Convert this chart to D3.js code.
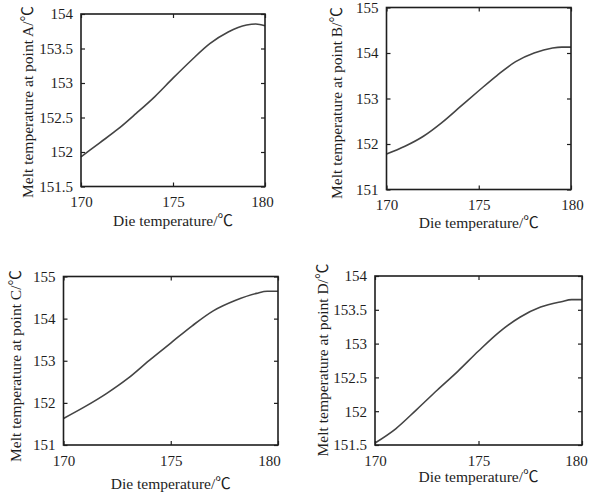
<!DOCTYPE html>
<html>
<head>
<meta charset="utf-8">
<script src="https://cdn.jsdelivr.net/npm/d3@7"></script>
<style>
  html, body { margin: 0; padding: 0; background: #fff; }
  svg { display: block; }
</style>
</head>
<body>
<svg id="chart" width="592" height="495"></svg>
<script>
// Die temperature (°C) sampled along each curve
const dieTemp = [170, 171, 172, 173, 174, 175, 176, 177, 178, 179, 179.5, 180];

// Melt temperature (°C) at the four monitoring points
const meltA = [151.93, 152.13, 152.33, 152.56, 152.80, 153.07, 153.33, 153.57, 153.74, 153.84, 153.855, 153.83];
const meltB = [151.78, 151.95, 152.17, 152.47, 152.82, 153.17, 153.51, 153.81, 154.00, 154.11, 154.13, 154.13];
const meltC = [151.63, 151.91, 152.22, 152.58, 153.01, 153.42, 153.83, 154.19, 154.43, 154.60, 154.65, 154.65];
const meltD = [151.53, 151.74, 152.02, 152.31, 152.59, 152.89, 153.17, 153.39, 153.54, 153.62, 153.65, 153.65];

// Axis ticks
const xTicks = [170, 175, 180];
const yTicksAD = [151.5, 152, 152.5, 153, 153.5, 154];
const yTicksBC = [151, 152, 153, 154, 155];
const yTickLabelsAD = ["151.5", "152", "152.5", "153", "153.5", "154"];
const yTickLabelsBC = ["151", "152", "153", "154", "155"];

const pointNames = ["A", "B", "C", "D"];
const xTitle = "Die temperature/\u2103";

const FONT = "'Liberation Serif', 'Noto Sans CJK SC', 'Times New Roman', serif";
const ink = "#1e1e1e";
const tickLen = 4;

const svg = d3.select("#chart");

// Frame geometry and label placement for each of the four plots
const panels = [
  { series: meltA, ticks: yTicksAD, labels: yTickLabelsAD,
    left: 81, right: 265, top: 14, bottom: 186.5, lastDx: -3,
    xTitleY: 226, yTitleX: 33, yTitleY: 102 },
  { series: meltB, ticks: yTicksBC, labels: yTickLabelsBC,
    left: 386.5, right: 571, top: 7.5, bottom: 189.5, lastDx: 1,
    xTitleY: 228, yTitleX: 342, yTitleY: 103 },
  { series: meltC, ticks: yTicksBC, labels: yTickLabelsBC,
    left: 63.5, right: 278, top: 276.5, bottom: 445, lastDx: -9,
    xTitleY: 489, yTitleX: 21, yTitleY: 366 },
  { series: meltD, ticks: yTicksAD, labels: yTickLabelsAD,
    left: 375, right: 582, top: 276, bottom: 445, lastDx: -6,
    xTitleY: 482, yTitleX: 328, yTitleY: 360 }
];

panels.forEach((p, i) => {
  const x = d3.scaleLinear().domain([xTicks[0], xTicks[xTicks.length - 1]]).range([p.left, p.right]);
  const y = d3.scaleLinear().domain([p.ticks[0], p.ticks[p.ticks.length - 1]]).range([p.bottom, p.top]);
  const g = svg.append("g");

  // Bottom and left axes (inward ticks), with labels
  const xAxis = d3.axisBottom(x).tickValues(xTicks).tickSizeInner(-tickLen).tickSizeOuter(0)
    .tickPadding(10).tickFormat(d3.format("d"));
  const yAxis = d3.axisLeft(y).tickValues(p.ticks).tickSizeInner(-tickLen).tickSizeOuter(0)
    .tickPadding(8).tickFormat((d, k) => p.labels[k]);
  // Mirrored top and right ticks without labels
  const xTop = d3.axisTop(x).tickValues(xTicks).tickSizeInner(-tickLen).tickSizeOuter(0).tickFormat("");
  const yRight = d3.axisRight(y).tickValues(p.ticks).tickSizeInner(-tickLen).tickSizeOuter(0).tickFormat("");

  const gx = g.append("g").attr("transform", `translate(0,${p.bottom})`).call(xAxis);
  const gy = g.append("g").attr("transform", `translate(${p.left},0)`).call(yAxis);
  const gt = g.append("g").attr("transform", `translate(0,${p.top})`).call(xTop);
  const gr = g.append("g").attr("transform", `translate(${p.right},0)`).call(yRight);

  [gx, gy, gt, gr].forEach(a => {
    a.attr("font-family", FONT).attr("font-size", 15);
    a.select(".domain").remove();
    a.selectAll(".tick line").attr("stroke", ink).attr("stroke-width", 1.2);
    a.selectAll(".tick text").attr("fill", ink);
  });
  // the right-most x label sits slightly inside the frame corner
  gx.selectAll(".tick text").filter(d => d === xTicks[xTicks.length - 1]).attr("dx", p.lastDx);

  // Data curve
  const line = d3.line()
    .x((d, k) => x(dieTemp[k]))
    .y(d => y(d))
    .curve(d3.curveMonotoneX);
  g.append("path")
    .datum(p.series)
    .attr("d", line)
    .attr("fill", "none")
    .attr("stroke", "#444")
    .attr("stroke-width", 1.6);

  // Plot frame
  g.append("rect")
    .attr("x", p.left).attr("y", p.top)
    .attr("width", p.right - p.left).attr("height", p.bottom - p.top)
    .attr("fill", "none").attr("stroke", ink).attr("stroke-width", 1.6);

  // Axis titles
  g.append("text")
    .attr("x", (p.left + p.right) / 2).attr("y", p.xTitleY)
    .attr("text-anchor", "middle")
    .attr("font-family", FONT).attr("font-size", 15.5).attr("fill", ink)
    .text(xTitle);
  g.append("text")
    .attr("transform", `translate(${p.yTitleX},${p.yTitleY}) rotate(-90)`)
    .attr("text-anchor", "middle")
    .attr("font-family", FONT).attr("font-size", 15.5).attr("fill", ink)
    .text(`Melt temperature at point ${pointNames[i]}/\u2103`);
});
</script>
</body>
</html>
